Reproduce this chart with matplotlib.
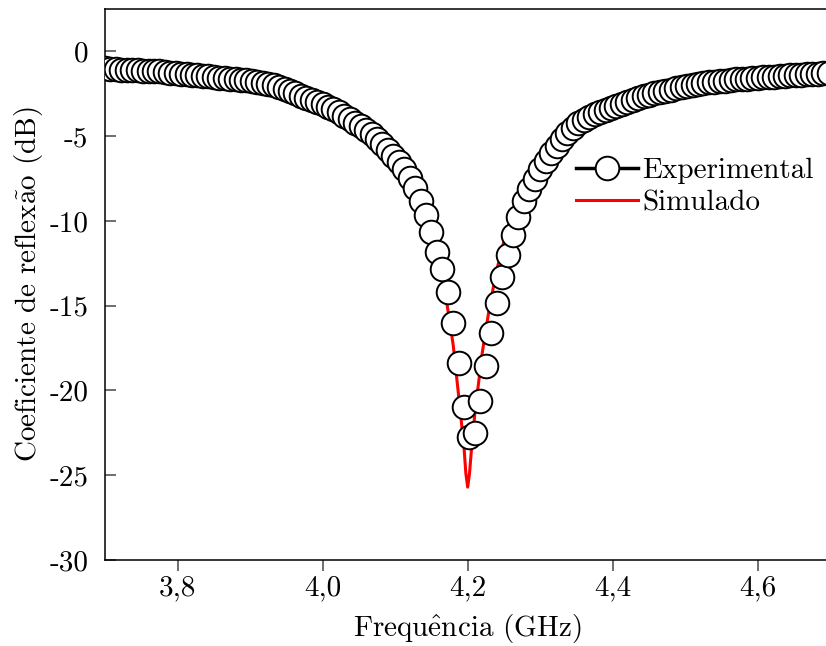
import matplotlib
matplotlib.use("Agg")
import matplotlib.pyplot as plt
import numpy as np
from matplotlib.lines import Line2D

plt.rcParams["font.family"] = ["cmr10", "DejaVu Serif"]
plt.rcParams["mathtext.fontset"] = "cm"
plt.rcParams["axes.unicode_minus"] = False

# measured sweep: 134 points, 3.7 GHz to ~4.7 GHz
freq_exp = np.linspace(3.7, 3.7 + 133 * 0.0075, 134)
s11_exp = [
    -1.00, -1.02, -1.05, -1.07, -1.08, -1.10, -1.12, -1.13, -1.14, -1.15,
    -1.18, -1.22, -1.26, -1.30, -1.33, -1.35, -1.38, -1.40, -1.43, -1.47,
    -1.50, -1.54, -1.57, -1.60, -1.63, -1.66, -1.70, -1.74, -1.79, -1.85,
    -1.92, -2.00, -2.10, -2.22, -2.35, -2.48, -2.60, -2.72, -2.85, -2.97,
    -3.10, -3.25, -3.42, -3.60, -3.80, -4.00, -4.20, -4.42, -4.65, -4.90,
    -5.18, -5.48, -5.80, -6.15, -6.50, -6.95, -7.45, -8.05, -8.80, -9.65,
    -10.65, -11.84, -12.85, -14.20, -16.03, -18.39, -20.98, -22.75, -22.50, -20.62,
    -18.56, -16.62, -14.85, -13.32, -12.02, -10.85, -9.75, -8.85, -8.10, -7.50,
    -6.95, -6.45, -6.00, -5.55, -5.15, -4.80, -4.50, -4.25, -4.05, -3.88,
    -3.72, -3.58, -3.45, -3.33, -3.20, -3.08, -2.96, -2.85, -2.75, -2.65,
    -2.56, -2.48, -2.40, -2.32, -2.25, -2.18, -2.10, -2.04, -1.98, -1.92,
    -1.87, -1.83, -1.80, -1.76, -1.72, -1.68, -1.65, -1.62, -1.60, -1.57,
    -1.55, -1.52, -1.50, -1.48, -1.46, -1.44, -1.42, -1.40, -1.38, -1.36,
    -1.34, -1.32, -1.30, -1.28,
]

freq_sim = [
    3.70, 3.75, 3.80, 3.85, 3.90, 3.95, 4.00, 4.03, 4.06, 4.08,
    4.10, 4.12, 4.135, 4.15, 4.16, 4.17, 4.18, 4.185, 4.19, 4.195,
    4.1975, 4.20, 4.2025, 4.205, 4.21, 4.22, 4.23, 4.24, 4.25, 4.26,
    4.28, 4.30, 4.33, 4.36, 4.40, 4.45, 4.50, 4.55, 4.60, 4.65, 4.70,
]
s11_sim = [
    -1.00, -1.10, -1.25, -1.45, -1.65, -2.00, -2.75, -3.50, -4.40, -5.20,
    -6.30, -7.60, -8.90, -10.70, -12.50, -14.50, -17.30, -19.30, -21.30, -23.40,
    -24.90, -25.70, -24.90, -23.60, -21.30, -17.80, -15.10, -12.90, -11.20, -9.80,
    -7.60, -6.00, -4.60, -3.70, -2.90, -2.20, -1.85, -1.60, -1.45, -1.35, -1.25,
]

xticks = [3.8, 4.0, 4.2, 4.4, 4.6]
xtick_labels = ["3,8", "4,0", "4,2", "4,4", "4,6"]
yticks = [0, -5, -10, -15, -20, -25, -30]
ytick_labels = ["0", "-5", "-10", "-15", "-20", "-25", "-30"]

fs = 21

fig = plt.figure(figsize=(8.26, 6.46), dpi=100)
ax = fig.add_axes([0.1271, 0.1331, 0.8782, 0.8529])

ax.plot(freq_sim, s11_sim, color="red", lw=2.2, zorder=2)
ax.plot(freq_exp, s11_exp, ls="none", marker="o", ms=17,
        mfc="white", mec="black", mew=1.4, zorder=3)

ax.set_xlim(3.7, 4.7)
ax.set_ylim(-30, 2.5)
ax.set_xticks(xticks)
ax.set_xticklabels(xtick_labels)
ax.set_yticks(yticks)
ax.set_yticklabels(ytick_labels)
ax.tick_params(axis="x", direction="out", length=8, width=1.2, color="#555555",
               labelsize=fs, pad=3)
ax.tick_params(axis="y", direction="in", length=8, width=1.2, color="#555555",
               labelsize=fs, pad=12)
for side in ["left", "bottom", "top"]:
    ax.spines[side].set_linewidth(1.1)
ax.spines["right"].set_visible(False)

ax.set_xlabel("Frequ$\\hat{\\mathrm{e}}$ncia (GHz)", fontsize=fs, labelpad=8)
ax.set_ylabel("Coeficiente de reflex$\\tilde{\\mathrm{a}}$o (dB)", fontsize=fs, labelpad=3)

handles = [
    Line2D([], [], color="black", lw=2.5, marker="o", ms=17,
           mfc="white", mec="black", mew=1.4),
    Line2D([], [], color="red", lw=2.2),
]
ax.legend(handles, ["Experimental", "Simulado"], loc="upper left",
          bbox_to_anchor=(0.65, 0.73), frameon=False, fontsize=fs,
          handlelength=2.1, handletextpad=0.15, labelspacing=0.2,
          borderpad=0, borderaxespad=0)

fig.savefig("out.png", dpi=100)
